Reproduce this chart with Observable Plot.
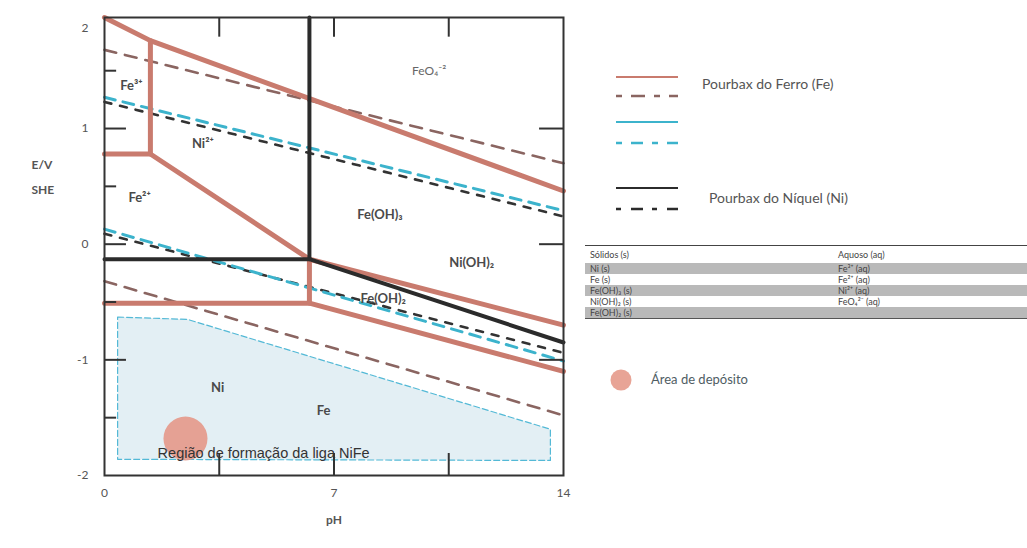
<!DOCTYPE html>
<html><head><meta charset="utf-8">
<script src="https://cdn.jsdelivr.net/npm/d3@7"></script>
<script src="https://cdn.jsdelivr.net/npm/@observablehq/plot@0.6"></script>
<style>
body{margin:0;background:#fff;}
#wrap{position:relative;width:1027px;height:548px;overflow:hidden;font-family:Lato,"Open Sans",sans-serif;background:#fff;}
#wrap > svg{position:absolute;left:0;top:0;}
.lg{position:absolute;color:#555;font-size:14px;white-space:nowrap;line-height:1;}
#tbl{position:absolute;left:585px;top:245px;width:442px;border-top:1.5px solid #444;border-bottom:1.5px solid #555;font-size:9px;color:#444;}
#tbl .row{position:relative;height:11px;line-height:11px;}
#tbl .row.h{height:17px;line-height:17px;}
#tbl .row.g{background:#b9b9b9;}
#tbl .c1{position:absolute;left:5px;}
#tbl .c2{position:absolute;left:253px;}
</style></head><body><div id="wrap"></div>
<script>
// ---- data ----
const xTickLabels = [0, 7, 14];
const yTickLabels = [1, 0, -1, -2];
const yTopLabel = [2];
const xInnerTicks = [3.5, 7, 10.5];
const yMajorTicks = [1, 0, -1];
const yMinorTicks = [1.5, 0.5, -0.5, -1.5];

// Fe Pourbaix boundaries (solid)
const feSolid = [
  [[0, 1.96], [1.4, 1.76], [14, 0.46]],
  [[0, 0.78], [1.4, 0.78], [1.4, 1.76]],
  [[1.4, 0.78], [6.25, -0.13]],
  [[0, -0.51], [6.25, -0.51], [6.25, -0.13]],
  [[6.25, -0.51], [14, -1.10]],
  [[6.25, -0.13], [14, -0.70]]
];
// Ni Pourbaix boundaries (solid)
const niSolid = [
  [[6.25, 1.96], [6.25, -0.13]],
  [[0, -0.13], [6.25, -0.13], [14, -0.85]]
];
// dashed lines
const feDashed = [[[0, 1.68], [14, 0.70]], [[0, -0.32], [14, -1.48]]];
const cyanDashed = [[[0, 1.27], [14, 0.29]], [[0, 0.13], [14, -1.01]]];
const niDashed = [[[0, 1.23], [14, 0.24]], [[0, 0.09], [14, -0.94]]];

// alloy formation region
const depositRegion = [[0.4, -0.63], [2.53, -0.65], [13.6, -1.60], [13.6, -1.87], [0.4, -1.86], [0.4, -0.63]];
const depositSpot = [[2.47, -1.68]];
const regionText = ["Região de formação da liga NiFe"];
const regionTextPos = [[1.62, -1.81]];

// region labels
const labelNames = ["Fe³⁺", "Ni²⁺", "Fe²⁺", "Fe(OH)₃", "Ni(OH)₂", "Fe(OH)₂", "Ni", "Fe"];
const labelPH = [0.82, 3.0, 1.07, 8.4, 11.2, 8.5, 3.45, 6.68];
const labelE = [1.37, 0.87, 0.40, 0.25, -0.16, -0.47, -1.24, -1.44];
const feo4Label = [{t: "FeO₄⁻²", pH: 9.9, E: 1.50}];

// legend / table
const legendFe = "Pourbax  do Ferro (Fe)";
const legendNi = "Pourbax do Níquel (Ni)";
const solidos = ["Sólidos (s)", "Ni (s)", "Fe (s)", "Fe(OH)₃ (s)", "Ni(OH)₂ (s)", "Fe(OH)₂ (s)"];
const aquosos = ["Aquoso (aq)", "Fe³⁺ (aq)", "Fe²⁺ (aq)", "Ni²⁺ (aq)", "FeO₄²⁻ (aq)", ""];
const depositLegend = "Área de depósito";

// ---- helpers ----
const RED = "#c97b6e", FEDASH = "#8a6561", CYAN = "#3cb3cc", BLACK = "#2b2b2b";
const rows = (segs) => segs.flatMap((s, i) => s.map(([pH, E]) => ({id: i, pH, E})));
const labels = labelNames.map((t, i) => ({t, pH: labelPH[i], E: labelE[i]}));

const plot = Plot.plot({
  width: 1027, height: 548,
  marginLeft: 104, marginRight: 464, marginTop: 17, marginBottom: 73,
  x: {domain: [0, 14], axis: null},
  y: {domain: [-2, 1.96], axis: null},
  style: {fontFamily: "Lato, 'Open Sans', sans-serif", background: "transparent"},
  marks: [
    // deposit region
    Plot.line(depositRegion, {x: d => d[0], y: d => d[1], fill: "#e3eff4", stroke: "#53b9d6", strokeWidth: 1.2, strokeDasharray: "6,3"}),
    Plot.dot(depositSpot, {x: d => d[0], y: d => d[1], r: 22, fill: "#e59a8b", fillOpacity: 0.92, stroke: "none"}),
    // dashed lines
    Plot.line(rows(feDashed), {x: "pH", y: "E", z: "id", stroke: FEDASH, strokeWidth: 2.6, strokeDasharray: "12,9"}),
    Plot.line(rows(niDashed), {x: "pH", y: "E", z: "id", stroke: "#333", strokeWidth: 2.6, strokeDasharray: "7,9"}),
    Plot.line(rows(cyanDashed), {x: "pH", y: "E", z: "id", stroke: CYAN, strokeWidth: 3, strokeDasharray: "11,8"}),
    // solid boundaries
    Plot.line(rows(feSolid), {x: "pH", y: "E", z: "id", stroke: RED, strokeWidth: 5, strokeLinejoin: "round"}),
    Plot.line(rows(niSolid), {x: "pH", y: "E", z: "id", stroke: BLACK, strokeWidth: 4, strokeLinejoin: "round"}),
    // inward ticks
    Plot.ruleY(yMajorTicks, {x1: 0, x2: 0.67, stroke: "#333", strokeWidth: 2}),
    Plot.ruleY(yMinorTicks, {x1: 0, x2: 0.37, stroke: "#333", strokeWidth: 2}),
    Plot.ruleY(yMajorTicks, {x1: 13.27, x2: 14, stroke: "#333", strokeWidth: 2}),
    Plot.ruleX(xInnerTicks, {y1: 1.96, y2: 1.79, stroke: "#333", strokeWidth: 2}),
    Plot.ruleX(xInnerTicks, {y1: -2, y2: -1.81, stroke: "#333", strokeWidth: 2}),
    Plot.frame({stroke: "#333", strokeWidth: 2}),
    // text labels
    Plot.text(regionText, {x: (d, i) => regionTextPos[i][0], y: (d, i) => regionTextPos[i][1], text: d => d, textAnchor: "start", fontSize: 14.5, fill: "#333", fontFamily: "'Liberation Sans', Arial, sans-serif"}),
    Plot.text(labels, {x: "pH", y: "E", text: "t", fontSize: 13, fontWeight: "bold", fill: "#4a4a4a"}),
    Plot.text(feo4Label, {x: "pH", y: "E", text: "t", fontSize: 12, fill: "#666"}),
    // tick labels
    Plot.text(yTickLabels, {x: 0, y: d => d, text: d => String(d), dx: -16, textAnchor: "end", fontSize: 12, fill: "#555"}),
    Plot.text(yTopLabel, {x: 0, y: 1.96, text: d => String(d), dx: -16, dy: 11, textAnchor: "end", fontSize: 12, fill: "#555"}),
    Plot.text(xTickLabels, {x: d => d, y: -2, text: d => String(d), dy: 18, fontSize: 12, fill: "#555"}),
    // axis titles
    Plot.text(["pH"], {frameAnchor: "bottom", dy: 48, text: d => d, fontSize: 12, fontWeight: "bold", fill: "#555"}),
    Plot.text(["E/V\nSHE"], {frameAnchor: "left", dx: -73, dy: -73, text: d => d, lineHeight: 2.1, fontSize: 12, fontWeight: "bold", fill: "#555"})
  ]
});

const wrap = document.getElementById("wrap");
wrap.appendChild(plot);

// legend lines (overlay svg)
const lg = d3.select(wrap).append("svg").attr("width", 1027).attr("height", 548);
const legendLines = [
  {y: 77, c: RED, dash: null, w: 2.2},
  {y: 96, c: FEDASH, dash: "6,9,14,9", w: 2.4},
  {y: 122, c: CYAN, dash: null, w: 2.2},
  {y: 143, c: CYAN, dash: "6,9,12,9", w: 2.4},
  {y: 188, c: BLACK, dash: null, w: 2.2},
  {y: 209, c: BLACK, dash: "5,10,12,9", w: 2.4}
];
lg.selectAll("line").data(legendLines).join("line")
  .attr("x1", 616).attr("x2", 678).attr("y1", d => d.y).attr("y2", d => d.y)
  .attr("stroke", d => d.c).attr("stroke-width", d => d.w)
  .attr("stroke-dasharray", d => d.dash);
lg.append("circle").attr("cx", 621).attr("cy", 380).attr("r", 10.5).attr("fill", "#e59a8b").attr("opacity", 0.9);

function addText(txt, left, top, extra) {
  const d = document.createElement("div");
  d.className = "lg"; d.textContent = txt;
  d.style.left = left + "px"; d.style.top = top + "px";
  if (extra) Object.assign(d.style, extra);
  wrap.appendChild(d);
}
addText(legendFe, 702, 77);
addText(legendNi, 709, 191);
addText(depositLegend, 651, 373, {color: "#4f5d64", fontSize: "13px"});

// table
const tbl = document.createElement("div"); tbl.id = "tbl";
solidos.forEach((s, i) => {
  const r = document.createElement("div");
  r.className = "row" + (i === 0 ? " h" : "") + (i % 2 === 1 ? " g" : "");
  const a = document.createElement("span"); a.className = "c1"; a.textContent = s;
  const b = document.createElement("span"); b.className = "c2"; b.textContent = aquosos[i];
  r.appendChild(a); r.appendChild(b); tbl.appendChild(r);
});
wrap.appendChild(tbl);
</script>
</body></html>
